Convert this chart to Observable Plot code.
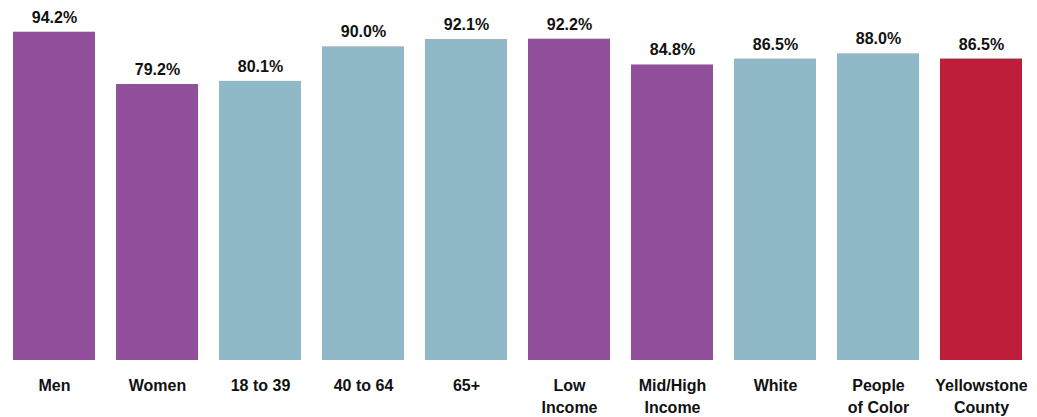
<!DOCTYPE html>
<html>
<head>
<meta charset="utf-8">
<script src="https://cdn.jsdelivr.net/npm/d3@7"></script>
<script src="https://cdn.jsdelivr.net/npm/@observablehq/plot@0.6"></script>
<style>
  html, body { margin: 0; padding: 0; background: #fff; }
  #chart svg { display: block; }
</style>
</head>
<body>
<div id="chart"></div>
<script>
const categories = ["Men", "Women", "18 to 39", "40 to 64", "65+", "Low Income", "Mid/High Income", "White", "People of Color", "Yellowstone County"];
const tickLabels = ["Men", "Women", "18 to 39", "40 to 64", "65+", "Low\nIncome", "Mid/High\nIncome", "White", "People\nof Color", "Yellowstone\nCounty"];
const values = [94.2, 79.2, 80.1, 90.0, 92.1, 92.2, 84.8, 86.5, 88.0, 86.5];
const groups = ["gender", "gender", "age", "age", "age", "income", "income", "race", "race", "total"];
const groupColors = {gender: "#914f9c", age: "#8fb9c7", income: "#914f9c", race: "#8fb9c7", total: "#be1e39"};

const data = categories.map((c, i) => ({cat: c, label: tickLabels[i], value: values[i], group: groups[i]}));

const font = "'Liberation Sans', Arial, sans-serif";

const chart = Plot.plot({
  width: 1037,
  height: 417,
  marginLeft: 2.4,
  marginRight: 4.6,
  marginTop: 11.5,
  marginBottom: 57,
  style: {fontFamily: font, background: "#fff"},
  x: {domain: categories, padding: 0.2, paddingOuter: 0.1, axis: null},
  y: {domain: [0, 100], axis: null},
  marks: [
    Plot.barY(data, {x: "cat", y: "value", fill: d => groupColors[d.group]}),
    Plot.text(data, {
      x: "cat", y: "value", text: d => d.value.toFixed(1) + "%",
      lineAnchor: "bottom", dy: -9.5, fontSize: 16, fontWeight: "bold", fill: "#111"
    }),
    Plot.text(data, {
      x: "cat", y: 0, text: "label",
      lineAnchor: "top", dy: 15.5, lineHeight: 1.36, fontSize: 16, fontWeight: "bold", fill: "#111"
    })
  ]
});
document.getElementById("chart").appendChild(chart);
</script>
</body>
</html>
